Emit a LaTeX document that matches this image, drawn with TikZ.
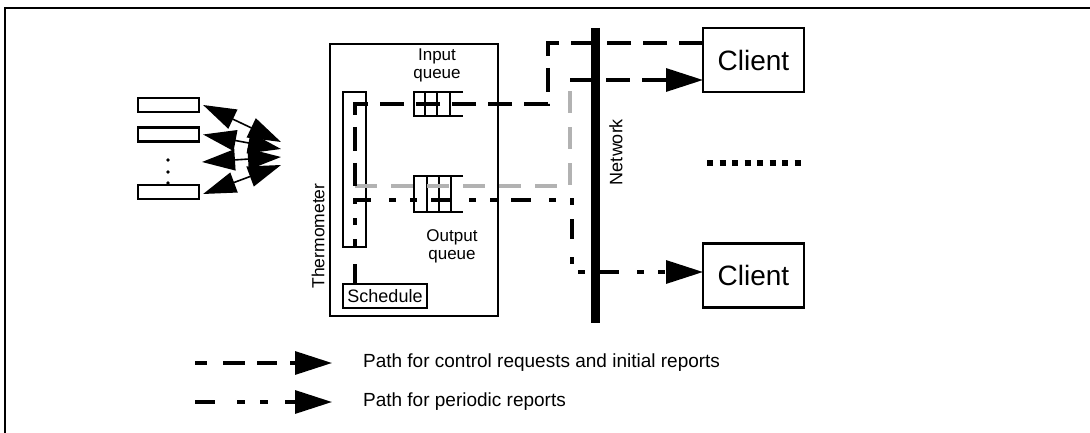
\documentclass[tikz,border=0pt]{standalone}
\usepackage{fontspec}
\setmainfont{Liberation Sans}
\usetikzlibrary{arrows.meta,positioning}
\tikzset{
  bigtip/.style={-{Triangle[length=37pt,width=23pt]}},
  ctrl/.style={line width=3.2pt, dash pattern=on 24pt off 12pt},
  peri/.style={line width=3.2pt, dash pattern=on 20pt off 18pt on 7pt off 14pt on 7pt off 14pt},
  report/.style={line width=3.4pt, gray!60, dash pattern=on 22pt off 14pt}
}

\begin{document}
\begin{tikzpicture}[x=1pt,y=-1pt,line width=2.2pt,
    box/.style = {draw, inner sep=0pt},
    sensor/.style = {box, minimum width=61pt, minimum height=14pt},
    client/.style = {box, minimum width=101pt, minimum height=64pt, font=\fontsize{28}{30}\selectfont},
    lbl/.style = {font=\fontsize{17}{18}\selectfont, align=center, inner sep=0pt},
    legend/.style = {font=\fontsize{19}{20}\selectfont, anchor=west, inner sep=0pt}]
      \useasboundingbox (0,0) rectangle (1090,433);

      % frame
      \draw (1090,8) -- (5,8) -- (5,433);

      % sensors
      \node[sensor] at (168.5,105)(s1){};
      \node[sensor] at (168.5,134.5)(s2){};
      \node[sensor] at (168.5,192)(s3){};
      \fill (168,160) circle (1.8pt) (168,172) circle (1.8pt) (168,183) circle (1.8pt);

      \coordinate (t1) at (281,142);
      \coordinate (t2) at (281,149);
      \coordinate (t3) at (281,157);
      \coordinate (t4) at (281,165);
      \coordinate (d3) at (202,162);

      \path[line width=1.6pt, {Triangle[length=33pt,width=21pt]}-{Triangle[length=33pt,width=21pt]}]
      ([xshift=3pt]s1.east) edge (t1)
      ([xshift=3pt]s2.east) edge (t2)
      (d3) edge (t3)
      ([xshift=3pt,yshift=-2pt]s3.east) edge (t4)
      ;

      % station
      \node[box, minimum width=168pt, minimum height=272pt] at (414,180)(station){};
      \node[box, minimum width=23pt, minimum height=155pt] at (354.5,169.5)(thermo){};
      \node[lbl, rotate=90, font=\fontsize{17.5}{18}\selectfont] at (318,236)(thermolbl){Thermometer};
      \node[box, minimum width=84pt, minimum height=24pt, font=\fontsize{18}{19}\selectfont] at (385,296)(sched){Schedule};

      % queues
      \draw (463,92) -- (414,92) -- (414,116) -- (463,116)
            (425,92) -- (425,116) (437,92) -- (437,116) (450,92) -- (450,116);
      \draw (463,176) -- (414,176) -- (414,212) -- (463,212)
            (427,176) -- (427,212) (439,176) -- (439,212) (451,176) -- (451,212);
      \node[lbl] at (437,65)(inq){Input\\queue};
      \node[lbl] at (452,246)(outq){Output\\queue};

      % network
      \draw[line width=9pt] (595,28) -- (595,323);
      \node[lbl, rotate=90, font=\fontsize{18}{19}\selectfont] at (616,152)(net){Network};

      % clients
      \node[client] at (753.5,60)(c1){Client};
      \node[client] at (753.5,275.5)(c2){Client};
      \draw[line width=6pt, dash pattern=on 6pt off 6.5pt] (707,163) -- (803,163);

      % control requests and initial reports
      \coordinate (req) at (703,43);
      \coordinate (r1) at (548,43);
      \coordinate (r2) at (548,104);
      \coordinate (r3) at (355,104);
      \coordinate (r4) at (355,186);
      \coordinate (r5) at (570,186);
      \coordinate (r6) at (570,80);
      \coordinate (rep) at (703,80);
      \draw[report] (r4) -- (r5) -- (r6);
      \draw[ctrl] (req) -- (r1) -- (r2) -- (r3) -- (r4);
      \draw[ctrl, bigtip] (r6) -- (rep);

      % periodic reports
      \coordinate (p0) at (355,284);
      \coordinate (p1) at (355,200);
      \coordinate (p2) at (572,200);
      \coordinate (p3) at (572,272);
      \coordinate (p4) at (703,272);
      \draw[peri, bigtip] (p0) -- (p1) -- (p2) -- (p3) -- (p4);

      % legend
      \coordinate (l1a) at (195,363);
      \coordinate (l1b) at (332,363);
      \coordinate (l2a) at (195,402);
      \coordinate (l2b) at (332,402);
      \draw[ctrl, dash pattern=on 12pt off 16pt on 22pt off 12pt on 20pt off 13pt, bigtip] (l1a) -- (l1b);
      \draw[peri, dash pattern=on 20pt off 22pt on 8pt off 15pt on 8pt off 17pt, bigtip] (l2a) -- (l2b);
      \node[legend] at (362,363)(lg1){Path for control requests and initial reports};
      \node[legend] at (362,402)(lg2){Path for periodic reports};

    \end{tikzpicture}
\end{document}
